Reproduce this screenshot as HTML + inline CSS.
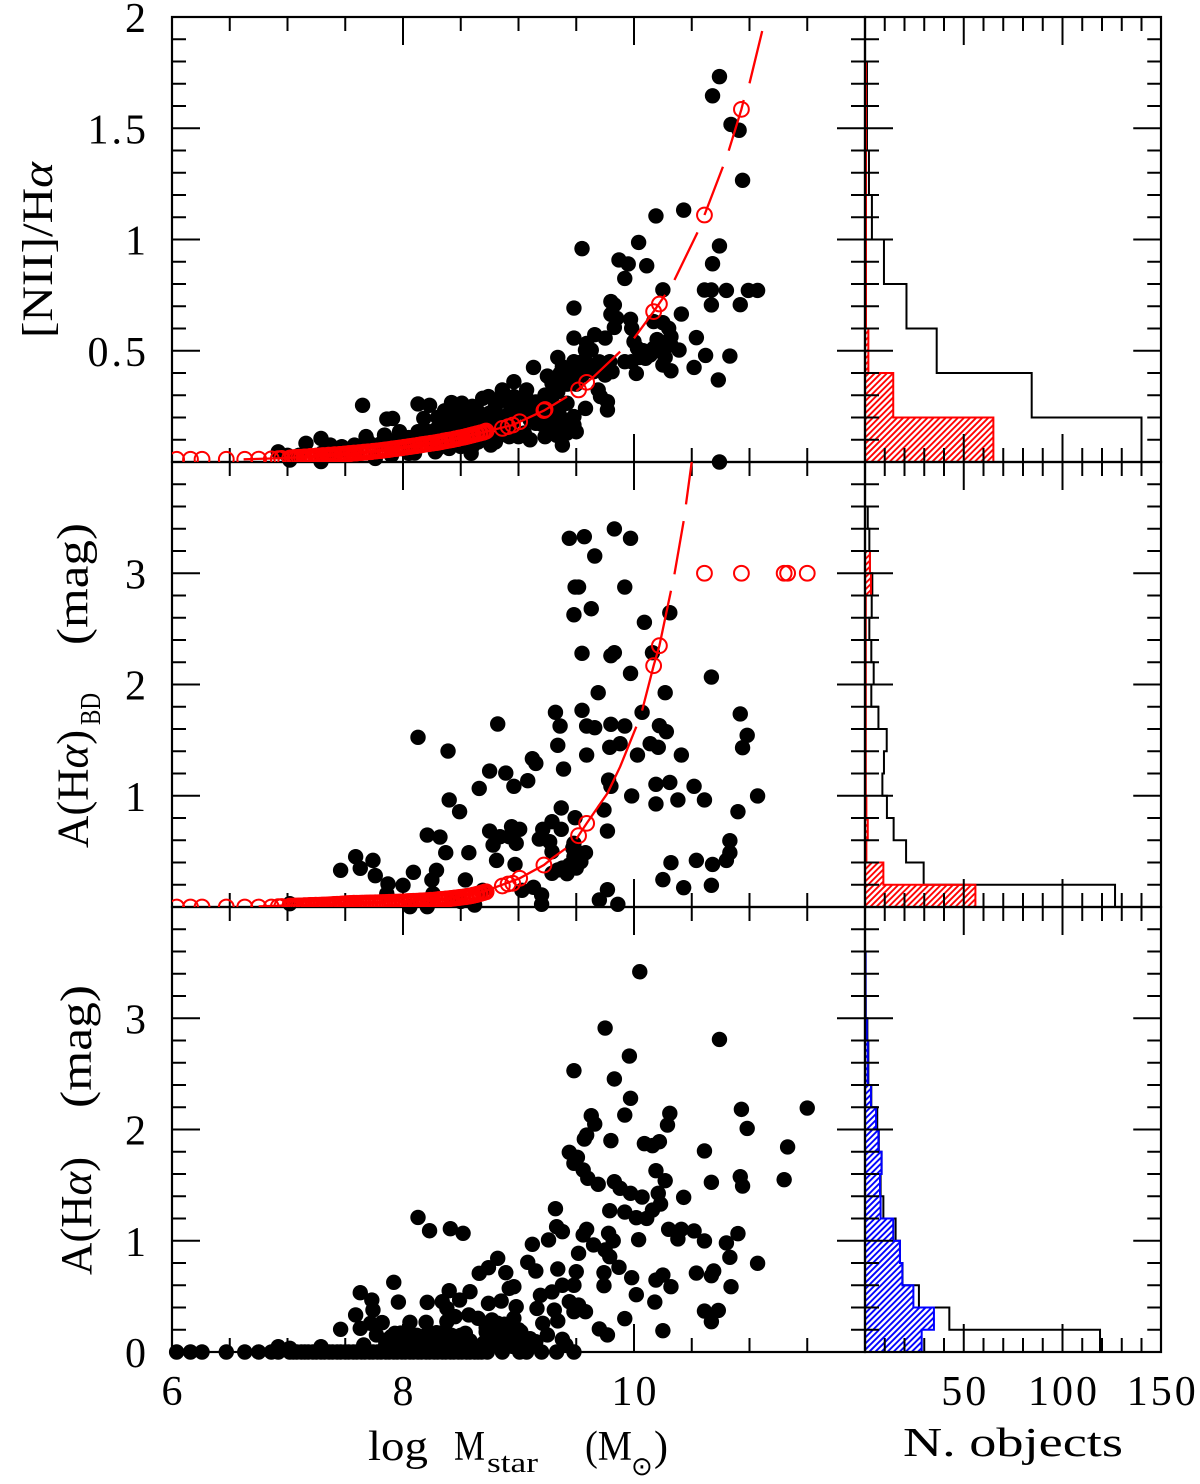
<!DOCTYPE html>
<html lang="en">
<head>
<meta charset="utf-8">
<title>Emission line ratios and extinction versus stellar mass</title>
<style>
html,body{margin:0;padding:0;background:#fff;}
svg{display:block;}
text{font-family:"Liberation Serif","DejaVu Serif",serif;fill:#000;}
</style>
</head>
<body>
<svg id="chart" xmlns="http://www.w3.org/2000/svg" width="1200" height="1484" viewBox="0 0 1200 1484">
<defs>
<pattern id="hatch-red" patternUnits="userSpaceOnUse" width="4.3" height="4.3" patternTransform="rotate(45)"><line x1="1" y1="0" x2="1" y2="4.3" stroke="#ff0000" stroke-width="1.9"/></pattern>
<pattern id="hatch-blue" patternUnits="userSpaceOnUse" width="4.3" height="4.3" patternTransform="rotate(45)"><line x1="1" y1="0" x2="1" y2="4.3" stroke="#0000ff" stroke-width="1.9"/></pattern>
<clipPath id="clip-nii"><rect x="172" y="17" width="693" height="445"/></clipPath>
<clipPath id="clip-ba"><rect x="172" y="462" width="693" height="445"/></clipPath>
</defs>
<rect x="0" y="0" width="1200" height="1484" fill="#fff"/>
<g id="layer-hist"></g>
<g id="layer-axes"></g>
<g id="layer-dots"></g>
<g id="layer-red"></g>
<g id="layer-labels"></g>

<text transform="translate(52,338) rotate(-90)" font-size="43" textLength="176" lengthAdjust="spacingAndGlyphs">[NII]/H<tspan font-style="italic">α</tspan></text>
<text transform="translate(87.5,848) rotate(-90)" font-size="44" textLength="118" lengthAdjust="spacingAndGlyphs">A(H<tspan font-style="italic">α</tspan>)</text>
<text transform="translate(100,725) rotate(-90)" font-size="28" textLength="32" lengthAdjust="spacingAndGlyphs">BD</text>
<text transform="translate(87.5,645) rotate(-90)" font-size="44" textLength="122" lengthAdjust="spacingAndGlyphs">(mag)</text>
<text transform="translate(91,1275) rotate(-90)" font-size="44" textLength="118" lengthAdjust="spacingAndGlyphs">A(H<tspan font-style="italic">α</tspan>)</text>
<text transform="translate(91,1108) rotate(-90)" font-size="44" textLength="123" lengthAdjust="spacingAndGlyphs">(mag)</text>

<text x="368" y="1460" font-size="42" textLength="60" lengthAdjust="spacingAndGlyphs">log</text>
<text x="454" y="1460" font-size="42" textLength="31" lengthAdjust="spacingAndGlyphs">M</text>
<text x="487" y="1472" font-size="29" textLength="51" lengthAdjust="spacingAndGlyphs">star</text>
<text x="585" y="1460" font-size="42" textLength="47" lengthAdjust="spacingAndGlyphs">(M</text>
<text x="631" y="1475" font-size="26" style="font-family:'DejaVu Sans',sans-serif">⊙</text>
<text x="654" y="1460" font-size="42" textLength="14" lengthAdjust="spacingAndGlyphs">)</text>
<text x="903" y="1456" font-size="41" textLength="220" lengthAdjust="spacingAndGlyphs">N. objects</text>
</svg>

<script>
// ---- Axis tick values ----
const massTicks = [6.5,7,7.5,8,8.5,9,9.5,10,10.5,11,11.5];
const massMajor = [8,10];
const massLabels = ['6','8','10'];
const countTicks = [10,20,30,40,50,60,70,80,90,100,110,120,130,140];
const countMajor = [50,100];
const countLabels = ['50','100','150'];
const niiTicks = [0.1,0.2,0.3,0.4,0.5,0.6,0.7,0.8,0.9,1,1.1,1.2,1.3,1.4,1.5,1.6,1.7,1.8,1.9];
const niiMajor = [0.5,1,1.5];
const niiLabels = ['0.5','1','1.5','2'];
const extTicks = [0.2,0.4,0.6,0.8,1,1.2,1.4,1.6,1.8,2,2.2,2.4,2.6,2.8,3,3.2,3.4,3.6,3.8];
const extMajor = [1,2,3];
const baLabels = ['1','2','3'];
const ahaLabels = ['0','1','2','3'];

// ---- Scatter data: [log Mstar, value] ----
const niiPoints = [[10.74,1.732],[10.68,1.646],[10.84,1.517],[10.91,1.491],[10.94,1.266],[10.43,1.132],[10.19,1.106],[10.04,.987],[9.55,.959],[10.74,.971],[10.68,.891],[9.87,.908],[9.95,.890],[10.11,.882],[9.92,.825],[10.25,.774],[10.61,.773],[10.67,.773],[10.80,.771],[10.99,.771],[11.07,.771],[10.67,.706],[10.92,.707],[9.48,.692],[9.80,.721],[9.83,.706],[10.41,.665],[9.80,.664],[9.85,.646],[9.97,.641],[9.83,.605],[9.98,.601],[10.17,.631],[10.25,.626],[10.30,.601],[9.48,.557],[9.66,.572],[9.75,.557],[10.32,.563],[10.32,.526],[10.54,.559],[9.59,.533],[9.58,.503],[9.63,.503],[10.0,.541],[10.03,.511],[10.39,.503],[10.62,.479],[10.83,.476],[10.17,.511],[10.14,.481],[10.10,.466],[9.34,.470],[9.48,.451],[9.79,.451],[10.27,.470],[10.25,.436],[10.52,.425],[9.92,.451],[9.98,.451],[9.13,.425],[9.38,.428],[9.36,.398],[9.50,.421],[9.65,.406],[9.81,.406],[9.75,.391],[10.02,.398],[10.32,.410],[10.73,.369],[9.25,.386],[9.29,.354],[8.96,.361],[8.86,.324],[9.07,.324],[9.34,.316],[9.69,.324],[9.71,.294],[9.77,.271],[9.77,.234],[8.74,.294],[8.69,.286],[8.96,.294],[8.42,.267],[8.51,.264],[8.13,.261],[8.23,.255],[7.65,.255],[7.91,.196],[7.86,.193],[8.18,.196],[8.41,.219],[8.51,.219],[8.65,.226],[8.80,.249],[8.92,.264],[9.07,.286],[9.23,.301],[9.42,.264],[9.58,.241],[9.48,.204],[9.36,.204],[9.23,.249],[9.15,.174],[9.48,.166],[9.27,.129],[9.50,.136],[9.23,.114],[9.38,.076],[9.00,.114],[8.92,.114],[8.76,.076],[8.59,.039],[8.40,.061],[8.28,.046],[8.05,.039],[7.76,.016],[7.02,.009],[7.29,.002],[10.74,0],[7.29,.106],[7.16,.084],[6.92,.046],[7.37,.076],[7.47,.069],[7.58,.076],[7.68,.114],[7.84,.121],[7.97,.136],[8.13,.136],[8.28,.144],[8.42,.144],[8.47,.181],[8.40,.181],[8.65,.144],[8.80,.174],[8.88,.189],[8.36,.23],[8.45,.20],[8.55,.19],[8.6,.17],[8.7,.2],[8.75,.22],[8.85,.2],[8.95,.18],[9.05,.22],[9.1,.19],[9.15,.27],[9.3,.26],[9.35,.22],[8.3,.1],[8.5,.1],[8.6,.12],[8.25,.1],[8.0,.1],[7.9,.09],[7.8,.08],[7.7,.09],[7.5,.05],[7.6,.05],[7.3,.04],[7.4,.04],[7.1,.03],[7.0,.03],[8.9,.12],[8.7,.1],[8.8,.1],[7.9,.03],[8.1,.04],[8.3,.06],[8.5,.07],[8.6,.07],[8.65,.09],[8.8,.09],[8.3,.2],[8.35,.16],[8.45,.24],[8.5,.17],[8.55,.23],[8.6,.25],[8.68,.19],[8.73,.16],[8.82,.28],[8.85,.16],[8.92,.22],[8.98,.25],[9.02,.27],[9.1,.27],[9.13,.23],[9.18,.2],[9.2,.17],[9.26,.2],[9.3,.17],[9.33,.12],[9.4,.17],[9.42,.13],[9.3,.31],[9.33,.36],[9.42,.35],[9.55,.45],[9.6,.44],[9.7,.45],[9.45,.38],[9.5,.35],[9.55,.39],[9.1,.1],[9.05,.13],[8.95,.13],[8.2,.14],[8.15,.1],[8.05,.11],[7.95,.1],[8.37,.13],[8.44,.12],[8.55,.13],[8.62,.15],[8.72,.13],[10.05,.47],[10.08,.5],[10.2,.55],[10.22,.5],[10.28,.52]];

const baPoints = [[9.83,3.398],[9.44,3.314],[9.57,3.329],[9.97,3.314],[9.66,3.155],[9.49,2.876],[9.52,2.876],[9.92,2.876],[9.63,2.681],[9.48,2.627],[10.31,2.645],[10.09,2.559],[9.55,2.28],[9.83,2.286],[9.80,2.259],[10.16,2.286],[9.97,2.10],[10.67,2.067],[9.69,1.926],[10.27,1.926],[9.32,1.75],[9.55,1.768],[10.07,1.75],[10.92,1.735],[8.82,1.645],[9.36,1.627],[9.59,1.627],[9.66,1.612],[9.80,1.642],[9.92,1.627],[10.22,1.63],[10.28,1.576],[10.98,1.543],[10.94,1.432],[8.13,1.525],[8.39,1.402],[9.34,1.453],[9.88,1.468],[9.79,1.435],[10.14,1.468],[10.21,1.435],[9.59,1.366],[10.03,1.366],[10.41,1.366],[9.12,1.333],[9.15,1.291],[8.75,1.222],[8.89,1.204],[9.39,1.24],[9.08,1.135],[8.66,1.066],[8.96,1.085],[9.78,1.141],[9.80,1.085],[10.19,1.103],[10.31,1.12],[10.52,1.085],[9.98,.998],[11.07,.998],[8.40,.962],[10.19,.926],[10.38,.962],[10.61,.962],[8.49,.857],[9.37,.89],[9.74,.872],[10.90,.857],[9.29,.767],[9.49,.803],[8.75,.683],[8.94,.722],[9.01,.698],[9.21,.698],[9.37,.698],[9.77,.683],[8.21,.647],[8.32,.629],[8.84,.632],[8.92,.632],[9.18,.611],[9.27,.587],[8.78,.557],[8.98,.572],[9.48,.572],[10.83,.596],[8.37,.488],[8.57,.488],[9.29,.497],[9.58,.488],[10.83,.488],[7.59,.452],[7.74,.419],[8.81,.419],[8.97,.383],[10.32,.398],[10.54,.419],[10.68,.383],[10.80,.419],[9.48,.452],[9.54,.407],[9.44,.377],[9.34,.333],[9.29,.303],[7.63,.348],[7.46,.33],[8.09,.312],[8.29,.33],[7.76,.282],[8.25,.243],[8.54,.243],[7.87,.207],[8.00,.195],[10.25,.246],[10.67,.195],[10.43,.174],[9.77,.156],[9.13,.177],[9.20,.108],[9.70,.063],[9.86,.024],[9.20,.024],[8.62,.018],[8.06,.003],[8.21,.003],[7.02,.03],[7.86,.12],[8.26,.12],[8.69,.15],[9.03,.15],[8.42,.06],[8.50,.05],[9.5,.5],[9.47,.53],[9.5,.35],[9.42,.3],[9.38,.35]];

const ahaPoints = [[10.05,3.418],[9.75,2.912],[10.74,2.81],[9.96,2.66],[9.48,2.529],[9.83,2.454],[9.97,2.28],[10.93,2.181],[11.50,2.193],[9.63,2.124],[10.31,2.145],[9.92,2.13],[9.66,2.049],[10.29,2.04],[10.98,2.01],[9.59,1.95],[9.57,1.914],[9.80,1.9],[10.22,1.89],[10.09,1.873],[10.16,1.855],[11.33,1.843],[10.61,1.807],[9.44,1.795],[9.51,1.75],[9.48,1.696],[9.56,1.636],[10.19,1.63],[9.60,1.561],[9.69,1.507],[9.83,1.531],[10.27,1.54],[10.92,1.576],[10.67,1.525],[11.30,1.549],[10.94,1.492],[9.88,1.471],[9.97,1.426],[10.07,1.393],[10.21,1.426],[10.43,1.39],[10.23,1.33],[10.16,1.276],[9.32,1.288],[9.79,1.27],[9.92,1.258],[10.02,1.207],[10.11,1.201],[8.13,1.21],[8.23,1.09],[8.41,1.108],[8.52,1.067],[9.33,1.126],[9.38,1.082],[9.26,1.007],[9.59,1.103],[9.56,1.052],[9.78,1.067],[9.82,1.0],[10.04,1.01],[10.30,1.103],[10.41,1.103],[10.52,1.088],[10.38,1.016],[10.61,.998],[10.90,1.064],[10.80,.98],[9.12,.968],[9.65,.962],[9.75,.917],[9.52,.887],[9.79,.857],[8.82,.842],[10.83,.851],[9.08,.806],[11.07,.797],[9.87,.761],[8.74,.758],[8.66,.707],[8.89,.713],[9.15,.728],[9.34,.746],[9.50,.722],[9.74,.713],[9.98,.668],[10.54,.71],[10.69,.728],[10.67,.686],[10.25,.692],[10.19,.647],[10.32,.587],[10.84,.587],[7.92,.626],[9.74,.596],[8.96,.587],[8.92,.572],[8.40,.551],[8.58,.542],[7.63,.533],[9.38,.60],[9.48,.60],[9.29,.54],[9.19,.51],[10.02,.515],[7.73,.467],[8.49,.467],[7.96,.449],[8.21,.446],[8.34,.452],[8.74,.437],[8.85,.458],[10.18,.449],[8.98,.407],[9.16,.392],[9.44,.452],[9.52,.422],[10.61,.368],[10.73,.374],[7.74,.377],[9.31,.377],[9.48,.362],[9.58,.362],[7.59,.333],[8.38,.392],[8.38,.273],[8.45,.318],[8.57,.333],[8.65,.303],[8.77,.288],[8.96,.303],[9.92,.30],[10.67,.273],[7.82,.264],[7.72,.258],[8.06,.267],[8.20,.267],[8.82,.258],[9.21,.258],[9.34,.279],[7.63,.213],[7.46,.204],[9.70,.207],[9.77,.153],[10.25,.192],[7.77,.153],[7.93,.168],[8.29,.174],[8.54,.168],[9.25,.153],[9.38,.114],[7.66,.063],[7.29,.048],[6.92,.048],[7.02,.033],[9.41,.063],[9.15,.093],[9.02,.183],[7.88,.12],[7.95,.15],[8.0,.1],[8.05,.14],[8.1,.08],[8.15,.12],[8.22,.1],[8.27,.15],[8.32,.17],[8.36,.12],[8.42,.15],[8.47,.11],[8.52,.08],[8.58,.1],[8.6,.06],[8.72,.18],[8.75,.13],[8.8,.16],[8.85,.12],[8.9,.15],[8.93,.1],[8.98,.08],[9.03,.12],[9.07,.05],[9.12,.07],[7.85,.06],[7.95,.05],[8.05,.05],[8.15,.05],[8.25,.05],[8.35,.05],[8.45,.05],[8.55,.04],[8.68,.05],[8.75,.06],[8.85,.05],[8.95,.05],[8.77,.2],[8.82,.22],[8.9,.2],[8.88,.25],[7.85,.1],[7.9,.14],[7.98,.17],[8.03,.12],[8.08,.1],[8.12,.15],[8.18,.14],[8.24,.16],[8.3,.12],[8.34,.09],[8.39,.16],[8.44,.12],[8.5,.15],[8.54,.06],[8.62,.04],[8.7,.08],[8.73,.12],[8.78,.1],[8.82,.14],[8.87,.08],[8.92,.12],[8.95,.17],[9.0,.1],[9.05,.08],[9.1,.12],[8.95,.22],[9.0,.2],[8.85,.2],[8.78,.18],[8.72,.22]];

const ahaZeroMasses = [6.04,6.16,6.26,6.47,6.63,6.75,6.86,6.92,7.02,7.05,7.08,7.12,7.15,7.18,7.22,7.25,7.29,7.32,7.36,7.39,7.43,7.46,7.5,7.53,7.57,7.6,7.64,7.67,7.71,7.74,7.78,7.81,7.85,7.88,7.92,7.95,7.99,8.02,8.06,8.09,8.13,8.16,8.2,8.23,8.27,8.3,8.34,8.37,8.41,8.44,8.48,8.51,8.55,8.58,8.62,8.65,8.68,8.73,8.86,9.01,9.07,9.2,9.33,9.48];

// ---- Red open circles: [log Mstar, value] ----
const niiCircles = [[6.04,.012],[6.16,.012],[6.26,.012],[6.47,.012],[6.63,.012],[6.75,.013],[6.86,.014],[6.92,.015],[6.95,.016],[7.02,.018],[7.08,.02],[7.12,.021],[7.17,.023],[7.22,.024],[7.27,.026],[7.33,.028],[7.38,.03],[7.43,.032],[7.47,.034],[7.51,.036],[7.55,.038],[7.6,.04],[7.64,.042],[7.68,.044],[7.72,.046],[7.76,.049],[7.8,.051],[7.84,.054],[7.88,.056],[7.91,.059],[7.95,.061],[7.99,.064],[8.03,.067],[8.07,.07],[8.11,.073],[8.15,.076],[8.18,.079],[8.22,.082],[8.26,.085],[8.3,.088],[8.33,.091],[8.37,.095],[8.4,.098],[8.44,.102],[8.47,.105],[8.5,.109],[8.54,.113],[8.57,.117],[8.6,.121],[8.63,.125],[8.66,.129],[8.69,.133],[8.71,.137],[8.86,.151],[8.91,.159],[8.95,.166],[9.01,.181],[9.22,.231],[9.23,.236],[9.52,.324],[9.59,.358],[10.17,.676],[10.22,.710],[10.61,1.11],[10.93,1.585]];

const baCircles = [[6.04,0],[6.16,0],[6.26,0],[6.47,0],[6.63,0],[6.75,0],[6.86,0],[6.92,.003],[6.95,.004],[7.02,.008],[7.08,.009],[7.12,.01],[7.17,.012],[7.22,.014],[7.27,.016],[7.33,.018],[7.38,.021],[7.43,.024],[7.47,.027],[7.51,.03],[7.55,.032],[7.6,.034],[7.64,.035],[7.68,.036],[7.72,.037],[7.76,.038],[7.8,.039],[7.84,.04],[7.88,.042],[7.91,.043],[7.95,.044],[7.99,.046],[8.03,.048],[8.07,.05],[8.11,.052],[8.15,.054],[8.18,.056],[8.22,.058],[8.26,.061],[8.3,.065],[8.33,.068],[8.37,.072],[8.4,.075],[8.44,.079],[8.47,.083],[8.5,.087],[8.54,.092],[8.57,.097],[8.6,.103],[8.63,.11],[8.66,.118],[8.69,.127],[8.71,.135],[8.86,.189],[8.91,.207],[8.95,.213],[9.01,.258],[9.22,.377],[9.52,.641],[9.59,.752],[10.17,2.169],[10.22,2.349],[10.61,3],[10.93,3],[11.30,3],[11.33,3],[11.50,3]];

// Extra circles in the crowded low-mass strip (same mass list for both panels)
const stripMasses = [7.04,7.06,7.1,7.14,7.15,7.19,7.2,7.24,7.25,7.29,7.31,7.35,7.36,7.4,7.41,7.45,7.49,7.53,7.57,7.58,7.62,7.66,7.7,7.74,7.78,7.82,7.86,7.9,7.93,7.97,8.01,8.05,8.09,8.13,8.16,8.2,8.24,8.28,8.31,8.35,8.38,8.42,8.45,8.48,8.52,8.55,8.58,8.61,8.64,8.67,8.7,8.72];
const stripNii = [.019,.02,.021,.022,.023,.024,.025,.026,.027,.028,.029,.03,.031,.032,.033,.034,.036,.038,.04,.04,.042,.044,.046,.048,.05,.052,.055,.058,.06,.063,.066,.069,.072,.075,.078,.081,.084,.087,.09,.094,.097,.1,.104,.107,.111,.115,.119,.123,.127,.131,.135,.139];
const stripBa = [.008,.009,.01,.011,.012,.013,.014,.015,.016,.017,.018,.019,.02,.022,.023,.025,.028,.031,.033,.033,.034,.035,.036,.037,.038,.04,.041,.043,.044,.045,.047,.049,.051,.053,.055,.057,.06,.063,.067,.07,.073,.077,.081,.085,.09,.095,.1,.106,.114,.122,.131,.137];

// ---- Red model curves (null marks a dash gap) ----
const niiCurveMass = [6.62,7.0,7.53,8.0,8.3,8.69,8.95,9.22,9.42,null,9.5,9.59,9.65,9.88,null,10.0,10.17,10.27,null,10.35,10.55,null,10.61,10.77,null,10.82,10.93,10.95,null,11.0,11.11];
const niiCurveValue = [.012,.018,.036,.064,.088,.133,.166,.231,.294,null,.318,.358,.383,.496,null,.556,.676,.751,null,.818,1.032,null,1.11,1.327,null,1.399,1.585,1.627,null,1.702,1.937];
const baCurveMass = [6.75,7.53,8.3,8.69,9.01,9.22,9.29,9.41,null,9.5,9.59,9.77,9.88,10.02,null,10.07,10.17,10.22,10.32,null,10.35,10.43,null,10.45,10.5];
const baCurveValue = [.005,.033,.065,.135,.258,.377,.437,.527,null,.61,.752,1.022,1.261,1.621,null,1.765,2.169,2.349,2.843,null,2.99,3.469,null,3.619,4.003];

// ---- Histogram counts per bin, lowest bin first ----
const niiBinWidth = 0.2;
const niiHistAll = [140,84.4,36.3,21,9.6,3.5,2,1,1];
const niiHistSub = [65,14.3,1.7,.5,.5,.5,.5,.5,.5];
const extBinWidth = 0.2;
const baHistAll = [126.6,29.7,20.8,14.5,11.1,8.8,9.6,11,6.8,3.2,4.4,3.2,2.2,3.4,3.7,2.5,2.2,1.4];
const baHistSub = [55.9,9.3,.7,1.4,.7,.4,.4,.4,.4,.4,.4,.4,.4,.4,3,2.5];
const ahaHistAll = [119,42.7,27.3,19,17.7,15.5,9.3,7.9,8.4,7,6.2,3.2,1.7,1.7,1.2,.4,.3,.3];
const ahaHistSub = [28.7,34.9,24.5,18.9,17.7,14.3,7.9,7.6,8.4,6.8,5.6,3,1.4,1.4,.9,.3,.3,.3];

// ---- Axis functions ----
const SVGNS = 'http://www.w3.org/2000/svg';
function massX(v){ return 172 + (v - 6) * 115.5; }
function countX(v){ return 865 + v * 1.975; }
function niiY(v){ return 462 - v * 222.5; }
function baY(v){ return 907 - v * 111.25; }
function ahaY(v){ return 1352 - v * 111.25; }

function tick(parent, x1, y1, x2, y2){
  const l = document.createElementNS(SVGNS, 'line');
  
  
  l.setAttribute('x1', x1); l.setAttribute('y1', y1);
  l.setAttribute('x2', x2); l.setAttribute('y2', y2);
  l.setAttribute('stroke', '#000');
  l.setAttribute('stroke-width', '2');
  parent.appendChild(l);
}
function label(parent, str, x, y, anchor){
  const t = document.createElementNS(SVGNS, 'text');
  
  
  t.setAttribute('x', x); t.setAttribute('y', y);
  t.setAttribute('font-size', '42');
  t.setAttribute('letter-spacing', '3');
  t.setAttribute('text-anchor', anchor);
  t.textContent = str;
  parent.appendChild(t);
}

const axesLayer = document.getElementById('layer-axes');
const labelLayer = document.getElementById('layer-labels');
const panels = [
  {name:'nii', top:17, bottom:462, y:niiY, ticks:niiTicks, major:niiMajor, labels:niiLabels},
  {name:'ba', top:462, bottom:907, y:baY, ticks:extTicks, major:extMajor, labels:baLabels},
  {name:'aha', top:907, bottom:1352, y:ahaY, ticks:extTicks, major:extMajor, labels:ahaLabels}
];
panels.forEach(function(p){
  massTicks.forEach(function(v){
    const len = massMajor.indexOf(v) >= 0 ? 28 : 14;
    tick(axesLayer, massX(v), p.top, massX(v), p.top + len);
    tick(axesLayer, massX(v), p.bottom, massX(v), p.bottom - len);
  });
  countTicks.forEach(function(v){
    const len = countMajor.indexOf(v) >= 0 ? 28 : 14;
    tick(axesLayer, countX(v), p.top, countX(v), p.top + len);
    tick(axesLayer, countX(v), p.bottom, countX(v), p.bottom - len);
  });
  p.ticks.forEach(function(v){
    const len = p.major.indexOf(v) >= 0 ? 28 : 14;
    const yy = p.y(v);
    tick(axesLayer, massX(6), yy, massX(6) + len, yy);
    tick(axesLayer, massX(12), yy, massX(12) - len, yy);
    tick(axesLayer, countX(0), yy, countX(0) + len, yy);
    tick(axesLayer, countX(150), yy, countX(150) - len, yy);
  });
  p.labels.forEach(function(s){
    label(labelLayer, s, 149, p.y(Number(s)) + 15, 'end');
  });
  [[172,865],[865,1161]].forEach(function(r){
    const f = document.createElementNS(SVGNS, 'rect');
    
    
    f.setAttribute('x', r[0]); f.setAttribute('y', p.top);
    f.setAttribute('width', r[1] - r[0]); f.setAttribute('height', p.bottom - p.top);
    f.setAttribute('fill', 'none');
    f.setAttribute('stroke', '#000');
    f.setAttribute('stroke-width', '2.2');
    axesLayer.appendChild(f);
  });
});
massLabels.forEach(function(s){ label(labelLayer, s, massX(Number(s)) + 1.5, 1405, 'middle'); });
countLabels.forEach(function(s){ label(labelLayer, s, countX(Number(s)) + 1.5, 1405, 'middle'); });

// ---- Histograms ----
function histPath(counts, binWidth, yFn){
  let d = 'M' + countX(0) + ' ' + yFn(0);
  counts.forEach(function(n, i){
    d += 'L' + countX(n) + ' ' + yFn(i * binWidth);
    d += 'L' + countX(n) + ' ' + yFn((i + 1) * binWidth);
  });
  d += 'L' + countX(0) + ' ' + yFn(counts.length * binWidth);
  return d;
}
const histLayer = document.getElementById('layer-hist');
function addHist(name, counts, binWidth, yFn, stroke, fill, width){
  const el = document.createElementNS(SVGNS, 'path');
  
  
  el.setAttribute('d', histPath(counts, binWidth, yFn));
  el.setAttribute('fill', fill);
  el.setAttribute('stroke', stroke);
  el.setAttribute('stroke-width', width);
  histLayer.appendChild(el);
}
addHist('hist-nii-all', niiHistAll, niiBinWidth, niiY, '#000', 'none', '2');
addHist('hist-nii-subset', niiHistSub, niiBinWidth, niiY, '#ff0000', 'url(#hatch-red)', '2');
addHist('hist-ba-all', baHistAll, extBinWidth, baY, '#000', 'none', '2');
addHist('hist-ba-subset', baHistSub, extBinWidth, baY, '#ff0000', 'url(#hatch-red)', '2');
addHist('hist-aha-all', ahaHistAll, extBinWidth, ahaY, '#000', 'none', '2');
addHist('hist-aha-subset', ahaHistSub, extBinWidth, ahaY, '#0000ff', 'url(#hatch-blue)', '2');

// ---- Scatter points ----
const dotsLayer = document.getElementById('layer-dots');
function addDot(m, v, yFn){
  const el = document.createElementNS(SVGNS, 'circle');
  
  
  el.setAttribute('cx', massX(m));
  el.setAttribute('cy', yFn(v));
  el.setAttribute('r', '7.7');
  el.setAttribute('fill', '#000');
  dotsLayer.appendChild(el);
}
niiPoints.forEach(function(p){ addDot(p[0], p[1], niiY); });
baPoints.forEach(function(p){ addDot(p[0], p[1], baY); });
ahaPoints.forEach(function(p){ addDot(p[0], p[1], ahaY); });
ahaZeroMasses.forEach(function(m){ addDot(m, 0, ahaY); });

// ---- Red curves and circles ----
const redLayer = document.getElementById('layer-red');
function addCurve(name, xs, ys, yFn, clip){
  let d = '', pen = false;
  xs.forEach(function(m, i){
    if (m === null) { pen = false; return; }
    d += (pen ? 'L' : 'M') + massX(m) + ' ' + yFn(ys[i]);
    pen = true;
  });
  const el = document.createElementNS(SVGNS, 'path');
  
  
  el.setAttribute('d', d);
  el.setAttribute('fill', 'none');
  el.setAttribute('stroke', '#ff0000');
  el.setAttribute('stroke-width', '2.3');
  el.setAttribute('clip-path', clip);
  redLayer.appendChild(el);
}
function addCircle(m, v, yFn, clip){
  const el = document.createElementNS(SVGNS, 'circle');
  
  
  el.setAttribute('cx', massX(m));
  el.setAttribute('cy', yFn(v));
  el.setAttribute('r', '7.4');
  el.setAttribute('fill', 'none');
  el.setAttribute('stroke', '#ff0000');
  el.setAttribute('stroke-width', '2');
  el.setAttribute('clip-path', clip);
  redLayer.appendChild(el);
}
addCurve('model-curve-nii', niiCurveMass, niiCurveValue, niiY, 'url(#clip-nii)');
addCurve('model-curve-ba', baCurveMass, baCurveValue, baY, 'url(#clip-ba)');
niiCircles.forEach(function(p){ addCircle(p[0], p[1], niiY, 'url(#clip-nii)'); });
baCircles.forEach(function(p){ addCircle(p[0], p[1], baY, 'url(#clip-ba)'); });
stripMasses.forEach(function(m, i){ addCircle(m, stripNii[i], niiY, 'url(#clip-nii)'); });
stripMasses.forEach(function(m, i){ addCircle(m, stripBa[i], baY, 'url(#clip-ba)'); });
</script>
</body>
</html>
